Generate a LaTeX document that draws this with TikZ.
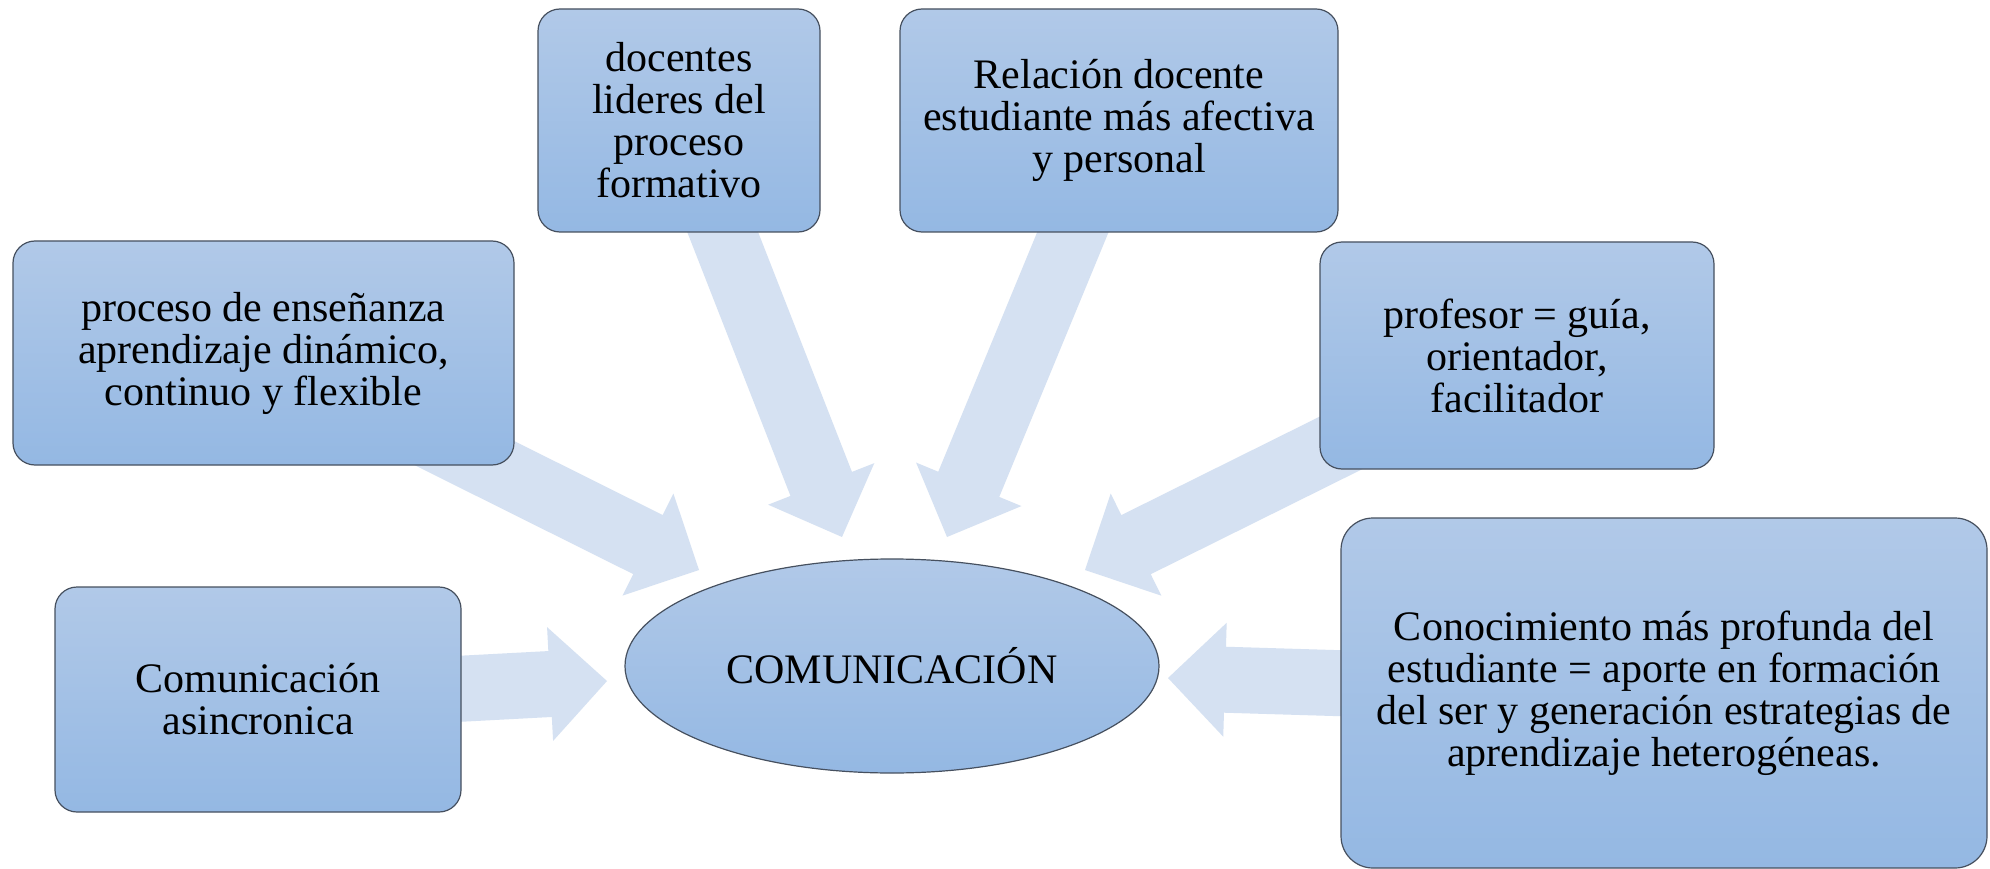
\documentclass[tikz,border=0pt]{standalone}
\usepackage{fontspec}
\setmainfont{Liberation Serif}
\usetikzlibrary{calc,shapes.geometric}
\pgfdeclarelayer{bg}
\pgfsetlayers{bg,main}
\definecolor{boxtop}{RGB}{177,201,232}
\definecolor{boxbot}{RGB}{148,184,227}
\definecolor{boxline}{RGB}{70,80,95}
\definecolor{arrowcol}{RGB}{213,225,242}
\tikzset{
  txt/.style={font=\fontsize{42pt}{42pt}\selectfont, align=center, text=black},
  card/.style={txt, rectangle, rounded corners=22pt, draw=boxline, line width=1.2pt,
    top color=boxtop, bottom color=boxbot, inner sep=0pt},
  hub/.style={txt, ellipse, draw=boxline, line width=1.2pt,
    top color=boxtop, bottom color=boxbot, inner sep=0pt},
  arrowfill/.style={fill=arrowcol, draw=none}
}
\newcommand\bigarrow[2]{%
  \coordinate (ah) at ($(#2)!57pt!(#1.center)$);
  \fill[arrowfill] ($(#1.center)!33pt!90:(#2)$) -- ($(ah)!33pt!90:(#2)$) -- ($(ah)!57pt!90:(#2)$) -- (#2)
    -- ($(ah)!57pt!-90:(#2)$) -- ($(ah)!33pt!-90:(#2)$) -- ($(#1.center)!33pt!-90:(#2)$) -- cycle;
}
\begin{document}
\begin{tikzpicture}[x=1pt,y=-1pt]
\useasboundingbox (0,0) rectangle (1990,869);
\node[hub, minimum width=534pt, minimum height=214pt] (c) at (892,666) {COMUNICACIÓN};
\node[card, minimum width=501pt, minimum height=224pt] (b1) at (263.5,353) {proceso de enseñanza\\aprendizaje dinámico,\\continuo y flexible};
\node[card, minimum width=282pt, minimum height=223pt] (b2) at (679,120.5) {docentes\\lideres del\\proceso\\formativo};
\node[card, minimum width=438pt, minimum height=223pt] (b3) at (1119,120.5) {Relación docente\\estudiante más afectiva\\y personal};
\node[card, minimum width=394pt, minimum height=227pt] (b4) at (1517,355.5) {profesor = guía,\\orientador,\\facilitador};
\node[card, rounded corners=32pt, minimum width=646pt, minimum height=350pt] (b5) at (1664,693) {Conocimiento más profunda del\\estudiante = aporte en formación\\del ser y generación estrategias de\\aprendizaje heterogéneas.};
\node[card, minimum width=406pt, minimum height=225pt] (b6) at (258,699.5) {Comunicación\\asincronica};
\coordinate (t1) at (699,570);
\coordinate (t2) at (842,537);
\coordinate (t3) at (947,537);
\coordinate (t4) at (1085,570);
\coordinate (t5) at (1168,678);
\coordinate (t6) at (607,681);
\begin{pgfonlayer}{bg}
\fill[white] (0,0) rectangle (1990,869);
\bigarrow{b1}{t1}
\bigarrow{b2}{t2}
\bigarrow{b3}{t3}
\bigarrow{b4}{t4}
\bigarrow{b5}{t5}
\bigarrow{b6}{t6}
\end{pgfonlayer}
\end{tikzpicture}
\end{document}
